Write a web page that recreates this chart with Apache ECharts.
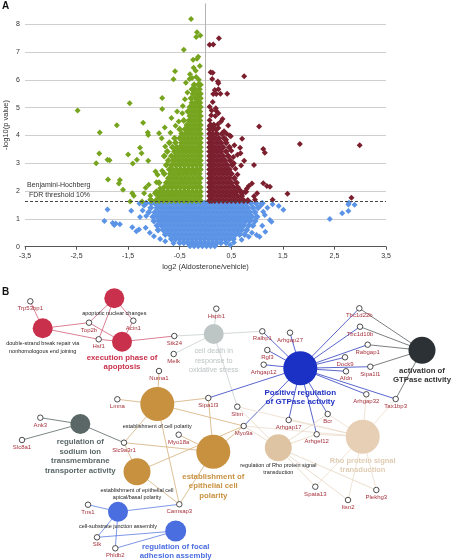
<!DOCTYPE html>
<html><head><meta charset="utf-8">
<script src="https://cdn.jsdelivr.net/npm/echarts@6/dist/echarts.min.js"></script>
<style>html,body{margin:0;padding:0;background:#fff}#c{width:453px;height:560px}</style>
</head><body><div id="c"></div>
<script>
// ---------- Panel A data (volcano plot) ----------
const xTickValues = [-3.5, -2.5, -1.5, -0.5, 0.5, 1.5, 2.5, 3.5];
const yTickValues = [0, 1, 2, 3, 4, 5, 6, 7, 8];
const fdrThreshold = 1.62;
const thresholdText = 'Benjamini-Hochberg\n FDR threshold 10%';
const xAxisTitle = 'log2 (Aldosterone/vehicle)';
const yAxisTitle = '-log10(p value)';

// dense regions read row by row: [y, [x values]]
const greenRows = [
 [1.66,[-1.05,-0.96,-0.9,-0.82,-0.74,-0.66,-0.58,-0.5,-0.42,-0.34,-0.26,-0.18,-0.1]],
 [1.82,[-0.92,-0.86,-0.78,-0.7,-0.62,-0.54,-0.46,-0.38,-0.3,-0.22,-0.14,-0.1]],
 [1.98,[-0.95,-0.88,-0.82,-0.74,-0.66,-0.58,-0.5,-0.42,-0.34,-0.26,-0.18,-0.1]],
 [2.14,[-0.8,-0.72,-0.64,-0.56,-0.48,-0.4,-0.32,-0.24,-0.16,-0.1]],
 [2.30,[-0.9,-0.76,-0.68,-0.6,-0.52,-0.44,-0.36,-0.28,-0.2,-0.12]],
 [2.46,[-0.72,-0.64,-0.56,-0.48,-0.4,-0.32,-0.24,-0.16,-0.1]],
 [2.62,[-0.8,-0.68,-0.6,-0.52,-0.44,-0.36,-0.28,-0.2,-0.12]],
 [2.78,[-0.7,-0.64,-0.56,-0.48,-0.4,-0.32,-0.24,-0.16,-0.1]],
 [2.94,[-0.76,-0.66,-0.58,-0.5,-0.42,-0.34,-0.26,-0.18,-0.1]],
 [3.10,[-0.72,-0.62,-0.54,-0.46,-0.38,-0.3,-0.22,-0.14,-0.1]],
 [3.26,[-0.8,-0.66,-0.58,-0.5,-0.42,-0.34,-0.26,-0.18,-0.1]],
 [3.42,[-0.74,-0.6,-0.54,-0.46,-0.38,-0.3,-0.22,-0.14,-0.1]],
 [3.58,[-0.64,-0.56,-0.5,-0.42,-0.34,-0.26,-0.18,-0.1]],
 [3.74,[-0.7,-0.58,-0.46,-0.38,-0.3,-0.22,-0.14,-0.1]],
 [3.90,[-0.6,-0.5,-0.42,-0.34,-0.26,-0.18,-0.1]],
 [4.06,[-0.46,-0.38,-0.3,-0.22,-0.14,-0.1]],
 [4.22,[-0.5,-0.4,-0.34,-0.26,-0.18,-0.11]],
 [4.38,[-0.36,-0.3,-0.22,-0.14,-0.1]],
 [4.54,[-0.42,-0.32,-0.26,-0.18,-0.11]],
 [4.70,[-0.3,-0.22,-0.14,-0.1]],
 [4.86,[-0.34,-0.26,-0.18,-0.11]],
 [5.02,[-0.3,-0.22,-0.14,-0.1]],
 [5.18,[-0.26,-0.18,-0.11]],
 [5.34,[-0.28,-0.2,-0.14,-0.1]],
 [5.50,[-0.24,-0.16,-0.1]],
 [5.66,[-0.26,-0.2,-0.12]],
 [5.82,[-0.22,-0.14,-0.1]]
];
const greenSingles = [[-0.28,8.19],[-0.165,7.71],[-0.1,7.6],[-0.18,7.54],[-0.42,7.08],[-0.24,6.72],[-0.14,6.83],[-0.165,6.76],[-0.11,6.5],[-0.23,6.44],[-0.19,6.33],[-0.59,6.31],[-0.62,6.02],[-0.31,6.03],[-0.26,6.07],[-0.18,6.1],[-0.13,6.0],[-2.48,4.9],[-1.47,5.16],[-0.84,5.35],[-0.84,4.95],[-0.44,5.06],[-0.66,4.63],[-0.55,4.86],[-1.72,4.37],[-1.21,4.46],[-2.05,4.11],[-1.12,4.11],[-1.11,4.02],[-0.9,4.08],[-0.79,4.29],[-0.58,4.35],[-1.27,3.56],[-2.06,3.35],[-2.12,3.0],[-1.9,3.13],[-1.86,3.11],[-1.5,3.32],[-1.24,3.36],[-1.41,2.99],[-1.33,3.13],[-1.11,3.09],[-1.89,2.42],[-1.66,2.4],[-1.68,2.27],[-1.6,2.05],[-1.42,1.92],[-1.39,1.83],[-1.46,1.63],[-1.1,2.23],[-1.16,2.12],[-1.19,1.92],[-1.07,1.83],[-1.23,1.63],[-1.07,1.7],[-0.97,2.7],[-0.93,2.59],[-0.84,2.73],[-0.95,2.32],[-0.88,2.1],[-0.98,1.92],[-0.85,3.9],[-0.78,3.6],[-0.68,4.1],[-0.52,4.5],[-0.45,4.8],[-0.4,5.3],[-0.35,5.55],[-0.38,5.9],[-0.3,6.2]];

const redRows = [
 [1.66,[0.08,0.12,0.18,0.26,0.34,0.42,0.5,0.58,0.66,0.74,0.82]],
 [1.82,[0.08,0.14,0.22,0.3,0.38,0.46,0.54,0.62,0.7]],
 [1.98,[0.08,0.12,0.18,0.26,0.34,0.42,0.5,0.58,0.68,0.78]],
 [2.14,[0.08,0.14,0.22,0.3,0.38,0.46,0.54,0.62]],
 [2.30,[0.08,0.12,0.18,0.26,0.34,0.42,0.5,0.6]],
 [2.46,[0.08,0.14,0.22,0.3,0.38,0.46,0.56]],
 [2.62,[0.08,0.12,0.18,0.26,0.34,0.42,0.5]],
 [2.78,[0.08,0.14,0.22,0.3,0.38,0.46]],
 [2.94,[0.08,0.12,0.18,0.26,0.34,0.42,0.52]],
 [3.10,[0.08,0.14,0.22,0.3,0.38,0.48]],
 [3.26,[0.08,0.12,0.18,0.26,0.34,0.44]],
 [3.42,[0.08,0.14,0.22,0.3,0.4]],
 [3.58,[0.08,0.12,0.18,0.26,0.34,0.46]],
 [3.74,[0.08,0.14,0.22,0.3,0.4]],
 [3.90,[0.08,0.12,0.18,0.26,0.36]],
 [4.06,[0.08,0.14,0.22,0.32]],
 [4.22,[0.08,0.14,0.2]],
 [4.38,[0.1,0.16]]
];
const redSingles = [[0.26,7.5],[0.08,7.26],[0.15,7.27],[0.75,6.13],[0.1,6.27],[0.14,6.26],[0.13,6.03],[0.24,5.94],[0.25,5.88],[0.18,5.64],[0.25,5.66],[0.42,5.5],[0.15,5.49],[0.21,5.49],[0.29,5.5],[0.08,5.03],[0.2,4.98],[0.21,4.88],[0.25,4.8],[0.19,4.7],[0.11,4.73],[0.33,4.59],[1.04,4.32],[0.08,4.34],[0.24,4.4],[0.44,4.36],[0.25,4.27],[0.41,4.06],[0.47,4.0],[0.49,3.97],[0.71,3.88],[1.83,3.69],[2.99,3.65],[0.56,3.65],[0.67,3.56],[1.12,3.51],[1.15,3.38],[0.68,3.36],[0.62,3.31],[0.54,3.23],[0.75,3.09],[0.94,2.94],[0.69,2.92],[1.12,2.28],[1.19,2.18],[1.25,2.16],[0.9,2.27],[0.84,2.18],[0.8,2.08],[1.0,1.92],[0.94,1.81],[0.96,1.69],[1.3,1.69],[1.59,1.9],[2.83,1.76],[0.58,1.97],[0.66,2.05],[0.73,1.94],[0.62,2.6],[0.58,2.8],[0.55,3.0],[0.5,3.45],[0.4,3.85],[0.36,4.15],[0.3,4.5],[0.08,4.55],[0.14,5.2],[0.12,4.9]];

const blueRows = [
 [1.56,[-1.15,-1.05,-0.98,-0.9,-0.82,-0.74,-0.66,-0.58,-0.5,-0.42,-0.34,-0.26,-0.18,-0.1,-0.02,0.06,0.14,0.22,0.3,0.38,0.46,0.54,0.62,0.7,0.78,0.88,0.98,1.1]],
 [1.40,[-1.06,-0.94,-0.86,-0.78,-0.7,-0.62,-0.54,-0.46,-0.38,-0.3,-0.22,-0.14,-0.06,0.02,0.1,0.18,0.26,0.34,0.42,0.5,0.58,0.66,0.74,0.82,0.92,1.02]],
 [1.24,[-1.1,-0.98,-0.9,-0.82,-0.74,-0.66,-0.58,-0.5,-0.42,-0.34,-0.26,-0.18,-0.1,-0.02,0.06,0.14,0.22,0.3,0.38,0.46,0.54,0.62,0.7,0.78,0.86,0.96]],
 [1.08,[-1.02,-0.94,-0.86,-0.78,-0.7,-0.62,-0.54,-0.46,-0.38,-0.3,-0.22,-0.14,-0.06,0.02,0.1,0.18,0.26,0.34,0.42,0.5,0.58,0.66,0.74,0.82,0.9,1.0]],
 [0.92,[-1.0,-0.9,-0.82,-0.74,-0.66,-0.58,-0.5,-0.42,-0.34,-0.26,-0.18,-0.1,-0.02,0.06,0.14,0.22,0.3,0.38,0.46,0.54,0.62,0.7,0.78,0.86,0.96]],
 [0.76,[-0.94,-0.86,-0.78,-0.7,-0.62,-0.54,-0.46,-0.38,-0.3,-0.22,-0.14,-0.06,0.02,0.1,0.18,0.26,0.34,0.42,0.5,0.58,0.66,0.74,0.84,0.92]],
 [0.60,[-0.92,-0.82,-0.74,-0.66,-0.58,-0.5,-0.42,-0.34,-0.26,-0.18,-0.1,-0.02,0.06,0.14,0.22,0.3,0.38,0.46,0.54,0.62,0.7,0.8]],
 [0.44,[-0.78,-0.7,-0.62,-0.54,-0.46,-0.38,-0.3,-0.22,-0.14,-0.06,0.02,0.1,0.18,0.26,0.34,0.42,0.5,0.58,0.66,0.76]],
 [0.28,[-0.66,-0.58,-0.5,-0.42,-0.34,-0.26,-0.18,-0.1,-0.02,0.06,0.14,0.22,0.3,0.38,0.46,0.54]],
 [0.14,[-0.5,-0.42,-0.34,-0.26,-0.18,-0.1,-0.02,0.06,0.14,0.22,0.3,0.4]],
 [0.03,[-0.3,-0.22,-0.14,-0.06,0.02,0.1,0.18]]
];
const blueSingles = [[-1.9,1.34],[-1.96,0.92],[-1.8,0.85],[-1.74,0.83],[-1.66,0.81],[-1.77,0.78],[-1.44,1.29],[-1.42,0.7],[-1.34,0.56],[-1.29,0.62],[-1.16,0.68],[-1.27,1.07],[-1.15,1.1],[-1.19,1.48],[-1.28,1.55],[-1.22,1.3],[-1.08,0.5],[-1.0,0.38],[-0.88,0.28],[-0.78,0.2],[-0.62,0.12],[1.3,1.53],[1.42,1.46],[1.51,1.33],[1.12,1.26],[1.15,1.14],[1.25,0.96],[1.28,0.9],[1.16,0.54],[1.05,0.36],[0.99,0.42],[1.2,1.4],[1.08,1.5],[1.1,0.75],[0.9,0.5],[0.84,0.36],[0.7,0.25],[0.55,0.15],[0.48,0.06],[2.41,1.0],[2.65,1.2],[2.77,1.28],[2.77,1.52],[2.89,1.51],[2.78,1.58]];

// ---------- Panel B data (GO term network) ----------
const termIds = ['apop','dsb','exec','celldeath','posreg','activ','cellpol','sodium','epcell','apical','cellsub','focal','regrho','rho'];
const termLabels = {
 apop:'apoptotic nuclear changes',
 dsb:'double-strand break repair via\nnonhomologous end joining',
 exec:'execution phase of\napoptosis',
 celldeath:'cell death in\nresponse to\noxidative stress',
 posreg:'Positive regulation\nof GTPase activity',
 activ:'activation of\nGTPase activity',
 cellpol:'establishment of cell polarity',
 sodium:'regulation of\nsodium ion\ntransmembrane\ntransporter activity',
 epcell:'establishment of\nepithelial cell\npolarity',
 apical:'establishment of epithelial cell\napical/basal polarity',
 cellsub:'cell-substrate junction assembly',
 focal:'regulation of focal\nadhesion assembly',
 regrho:'regulation of Rho protein signal\ntransduction',
 rho:'Rho protein signal\ntransduction'
};
const termGenes = {
 dsb:['Trp53bp1','Top2b','Hsf1'],
 apop:['Top2b','Hsf1','Acin1'],
 exec:['Top2b','Acin1','Hsf1','Stk24'],
 celldeath:['Stk24','Hspb1','Melk','Ralbp1','Sltm'],
 posreg:['Ralbp1','Arhgap27','Rgl3','Arhgap12','Tbc1d22b','Tbc1d10b','Rabgap1','Dock9','Sipa1l1','Afdn','Arhgap32','Tax1bp3','Sipa1l3','Myo9a','Arhgap17','Bcr','Arhgef12'],
 activ:['Tbc1d22b','Tbc1d10b','Rabgap1','Sipa1l1','Tax1bp3'],
 cellpol:['Numa1','Lmna','Sipa1l3','Myo9a','Slc9a3r1','Camsap3'],
 epcell:['Sipa1l3','Slc9a3r1','Myo9a','Myo18a','Camsap3'],
 apical:['Slc9a3r1','Camsap3','Myo9a'],
 sodium:['Ank3','Slc8a1','Slc9a3r1'],
 cellsub:['Tns1','Camsap3','Slk','Phldb2'],
 focal:['Slk','Phldb2'],
 regrho:['Myo9a','Sltm','Arhgef12','Bcr','Spata13','Itsn2','Plekhg3'],
 rho:['Arhgap32','Tax1bp3','Bcr','Arhgef12','Arhgap17','Sltm','Myo9a','Spata13','Itsn2','Plekhg3']
};
// node coordinates in the layout space of panel B
const termCoords = {
 apop:[114.3,298.3], dsb:[42.7,328.3], exec:[122,341.7], celldeath:[213.7,334],
 posreg:[300.3,368.3], activ:[422,350.3], cellpol:[157.3,404], sodium:[80.3,424],
 epcell:[213.3,451.7], apical:[137,471.7], cellsub:[118,511.7], focal:[175.7,531],
 regrho:[278.3,447.7], rho:[362.7,436.7]
};
const geneCoords = {
 Trp53bp1:[30.3,301.3], Top2b:[89,322.7], Acin1:[133.3,320.7], Hsf1:[98.7,339.3],
 Stk24:[174.3,336], Melk:[173.7,354], Hspb1:[216.3,308.7], Ralbp1:[262.3,331.3],
 Arhgap27:[290,332.7], Rgl3:[267.3,350], Arhgap12:[263.7,364.7], Tbc1d22b:[359.3,308.3],
 Tbc1d10b:[360,326.7], Rabgap1:[367.7,344.7], Dock9:[345,357.3], Sipa1l1:[370.3,366.7],
 Afdn:[346,371.3], Arhgap32:[366.3,394.3], Tax1bp3:[395.7,399], Sltm:[237.3,406.7],
 Numa1:[159,371], Lmna:[117.3,399.3], Sipa1l3:[208.3,398], Ank3:[40.3,417.7],
 Slc8a1:[22,440], Slc9a3r1:[124,442.7], Myo18a:[178.7,434.7], Myo9a:[243.7,426],
 Arhgap17:[288.7,420], Bcr:[327.7,414], Arhgef12:[316.7,434.3], Spata13:[315.3,486.7],
 Itsn2:[348,500], Plekhg3:[376.3,490], Tns1:[88,504.7], Camsap3:[179.3,504.3],
 Slk:[97,537.3], Phldb2:[115.3,548.3]
};

// ---------- styles ----------
const FONT = 'Liberation Sans, Arial, sans-serif';
const C_GREEN = '#76a41e', C_RED = '#7b1f2e', C_BLUE = '#5b93e6';
const DENSE_SIZE = 7, SINGLE_SIZE = 6;
const termStyle = {
 apop:     {size:20, color:'#c9304b', edge:'#d0607a', fs:5.5, fc:'#222', bold:false, lh:7,   dist:2},
 dsb:      {size:20, color:'#c9304b', edge:'#d0607a', fs:5.5, fc:'#222', bold:false, lh:7.3, dist:2},
 exec:     {size:20, color:'#c9304b', edge:'#d0607a', fs:7.8, fc:'#c9304b', bold:true, lh:9.3, dist:1.5},
 celldeath:{size:20, color:'#bec5c5', edge:'#c9cfcf', fs:7.2, fc:'#bcc3c4', bold:false, lh:9.7, dist:2},
 posreg:   {size:34, color:'#1b30c4', edge:'#3040c0', fs:8, fc:'#2233c4', bold:true, lh:9.3, dist:3},
 activ:    {size:27, color:'#2b3134', edge:'#5a5f62', fs:7.8, fc:'#333', bold:true, lh:9.3, dist:2.5},
 cellpol:  {size:34, color:'#c8913f', edge:'#d6b07c', fs:5.5, fc:'#222', bold:false, lh:7, dist:2},
 sodium:   {size:20, color:'#5b6767', edge:'#5b6767', fs:7.8, fc:'#5b6767', bold:true, lh:9.7, dist:3},
 epcell:   {size:34, color:'#c8913f', edge:'#d6b07c', fs:7.8, fc:'#c8913f', bold:true, lh:9.5, dist:3},
 apical:   {size:27, color:'#c8913f', edge:'#d6b07c', fs:5.5, fc:'#222', bold:false, lh:7.3, dist:1.5},
 cellsub:  {size:20, color:'#4a6ddf', edge:'#5c7ddf', fs:5.5, fc:'#222', bold:false, lh:7, dist:1.5},
 focal:    {size:21, color:'#4a6ddf', edge:'#5c7ddf', fs:7.8, fc:'#4a6ddf', bold:true, lh:9, dist:0.5},
 regrho:   {size:27, color:'#dfc4a3', edge:'#e6d5c1', fs:5.5, fc:'#222', bold:false, lh:7, dist:1},
 rho:      {size:34, color:'#e6cfb4', edge:'#ebdccb', fs:7.5, fc:'#e0ccb3', bold:true, lh:9.3, dist:2.5}
};

// ---------- build ----------
const rowsToPoints = rows => rows.flatMap(([y, xs]) => xs.map(x => [x, y]));

const nodes = [];
termIds.forEach(id => {
  const s = termStyle[id];
  nodes.push({
    name: id, value: termCoords[id], symbolSize: s.size,
    itemStyle: {color: s.color, borderWidth: 0},
    label: {show: true, position: 'bottom', distance: s.dist, formatter: termLabels[id],
      fontSize: s.fs, fontWeight: s.bold ? 'bold' : 'normal', color: s.fc, lineHeight: s.lh,
      align: 'center', fontFamily: FONT}
  });
});
Object.keys(geneCoords).forEach(g => {
  nodes.push({
    name: g, value: geneCoords[g], symbolSize: 5.5,
    itemStyle: {color: '#fff', borderColor: '#222', borderWidth: 0.8},
    label: {show: true, position: 'bottom', distance: 1, formatter: g,
      fontSize: 6, color: '#a6323c', fontFamily: FONT}
  });
});
const links = [];
termIds.forEach(id => {
  (termGenes[id] || []).forEach(g => links.push({source: id, target: g,
    lineStyle: {color: termStyle[id].edge, width: 0.8, opacity: 1}}));
});

const splitColors = yTickValues.map(() => '#cfcfcf').concat(['rgba(0,0,0,0)']);
const sc = (data, color, size) => ({type: 'scatter', xAxisIndex: 0, yAxisIndex: 0, data: data,
  symbol: 'diamond', symbolSize: size, itemStyle: {color: color, opacity: 1}, z: 3, silent: true});

const series = [
  Object.assign(sc(rowsToPoints(blueRows), C_BLUE, DENSE_SIZE), {
    markLine: {silent: true, symbol: 'none', z: 1, label: {show: false},
      lineStyle: {color: '#b3b3b3', width: 1, type: 'solid'}, data: [{xAxis: 0}]}}),
  sc(blueSingles, C_BLUE, SINGLE_SIZE),
  sc(rowsToPoints(greenRows), C_GREEN, DENSE_SIZE),
  sc(greenSingles, C_GREEN, SINGLE_SIZE),
  sc(rowsToPoints(redRows), C_RED, DENSE_SIZE),
  Object.assign(sc(redSingles, C_RED, SINGLE_SIZE), {
    markLine: {silent: true, symbol: 'none', z: 5, label: {show: false},
      lineStyle: {color: '#444', width: 1, type: [3, 2]}, data: [{yAxis: fdrThreshold}]}}),
  {type: 'graph', coordinateSystem: 'cartesian2d', xAxisIndex: 1, yAxisIndex: 1, layout: 'none',
   data: nodes, links: links, silent: true, z: 3, emphasis: {disabled: true},
   lineStyle: {curveness: 0}}
];

const chart = echarts.init(document.getElementById('c'), null, {renderer: 'canvas'});
chart.setOption({
  animation: false,
  backgroundColor: '#fff',
  textStyle: {fontFamily: FONT},
  grid: [
    {left: 25, right: 67, top: 3.4, bottom: 313.3, outerBoundsMode: 'none', containLabel: false},
    {left: 0, top: 280, width: 453, height: 280, outerBoundsMode: 'none', containLabel: false}
  ],
  xAxis: [
    {gridIndex: 0, type: 'value', min: xTickValues[0], max: xTickValues[xTickValues.length - 1], interval: 1,
     axisLine: {lineStyle: {color: '#555', width: 1}},
     axisTick: {show: true, length: 3, lineStyle: {color: '#555'}},
     axisLabel: {fontSize: 7, color: '#333', margin: 6, formatter: v => String(v).replace('.', ',')},
     splitLine: {show: false},
     name: xAxisTitle, nameLocation: 'middle', nameGap: 16, nameMoveOverlap: false,
     nameTextStyle: {fontSize: 7.5, color: '#333'}},
    {gridIndex: 1, type: 'value', min: 0, max: 453, show: false}
  ],
  yAxis: [
    {gridIndex: 0, type: 'value', min: 0, max: 8.75, interval: 1,
     axisLine: {show: false}, axisTick: {show: false},
     axisLabel: {fontSize: 7, color: '#333', margin: 5, formatter: v => yTickValues.includes(v) ? String(v) : ''},
     splitLine: {show: true, lineStyle: {color: splitColors, width: 1}},
     name: yAxisTitle, nameLocation: 'middle', nameGap: 15, nameRotate: 90, nameMoveOverlap: false,
     nameTextStyle: {fontSize: 7.5, color: '#333'}},
    {gridIndex: 1, type: 'value', min: 280, max: 560, inverse: true, show: false}
  ],
  graphic: [
    {type: 'text', left: 2, top: 1, style: {text: 'A', font: 'bold 10px ' + FONT, fill: '#111'}},
    {type: 'text', left: 2, top: 287, style: {text: 'B', font: 'bold 10px ' + FONT, fill: '#111'}},
    {type: 'text', left: 27, top: 180.5, z: 10, style: {text: thresholdText, font: '7px ' + FONT, fill: '#333', lineHeight: 9.5}}
  ],
  series: series
});
</script>
</body></html>
